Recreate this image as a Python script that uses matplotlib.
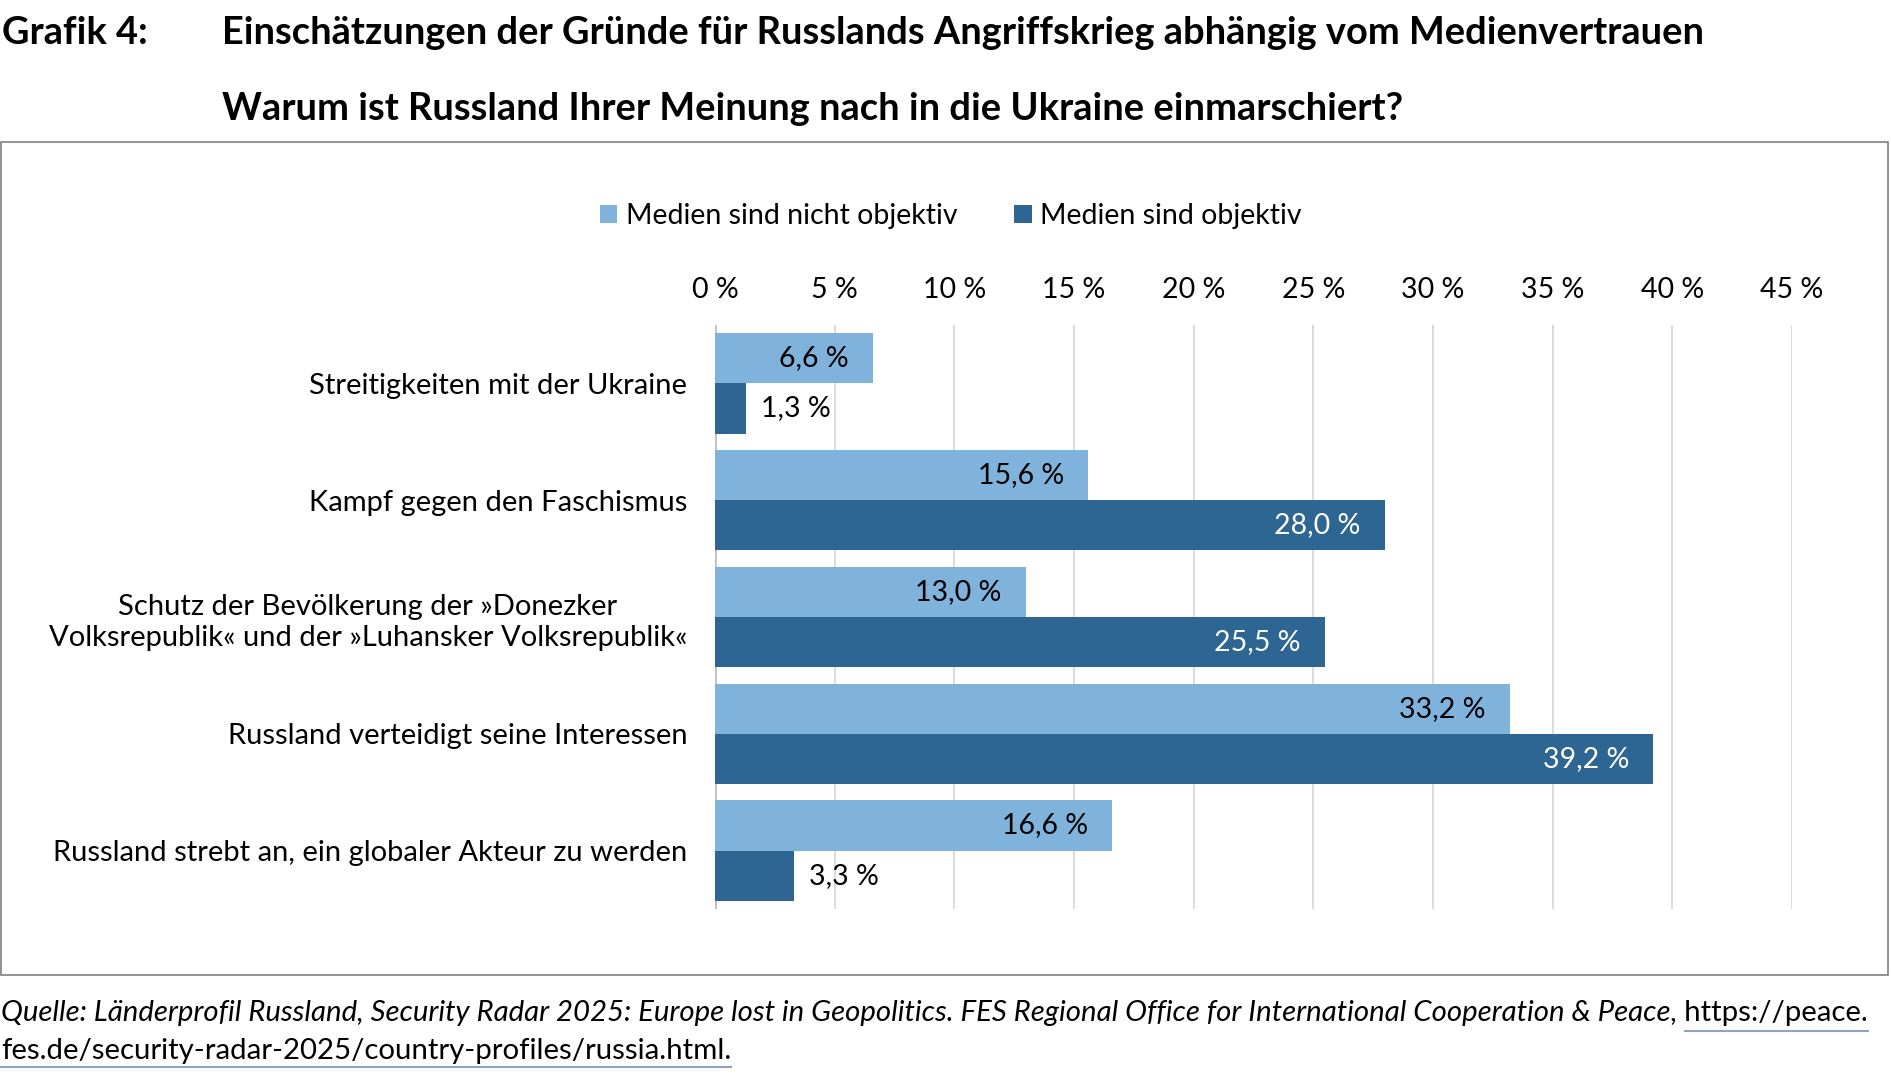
import matplotlib
matplotlib.use("Agg")
import matplotlib.pyplot as plt
from matplotlib.patches import Rectangle, Patch
from matplotlib.lines import Line2D

plt.rcParams["font.family"] = ["Lato", "DejaVu Sans"]

categories = [
    "Streitigkeiten mit der Ukraine",
    "Kampf gegen den Faschismus",
    "Schutz der Bevölkerung der »Donezker\nVolksrepublik« und der »Luhansker Volksrepublik«",
    "Russland verteidigt seine Interessen",
    "Russland strebt an, ein globaler Akteur zu werden",
]
nicht_objektiv = [6.6, 15.6, 13.0, 33.2, 16.6]
objektiv = [1.3, 28.0, 25.5, 39.2, 3.3]
ticks = [0, 5, 10, 15, 20, 25, 30, 35, 40, 45]
series_names = ["Medien sind nicht objektiv", "Medien sind objektiv"]

LIGHT = "#80B3DB"
DARK = "#2D6693"

W, H = 1891, 1076
fig = plt.figure(figsize=(W / 100, H / 100), dpi=100)


def fx(x):
    return x / W


def fy(y):
    return 1 - y / H


ax = fig.add_axes([fx(715), fy(909), fx(1792) - fx(715), (909 - 325) / H])

bh = 0.43
ypos = list(range(len(categories)))
ax.barh([y - bh / 2 for y in ypos], nicht_objektiv, height=bh, color=LIGHT, zorder=3)
ax.barh([y + bh / 2 for y in ypos], objektiv, height=bh, color=DARK, zorder=3)

fs = 20.5
for y, v in zip(ypos, nicht_objektiv):
    ax.annotate(f"{v:.1f} %".replace(".", ","), (v, y - bh / 2), xytext=(-17.5, 0),
                textcoords="offset points", ha="right", va="center", fontsize=fs,
                color="black", zorder=4)
for y, v in zip(ypos, objektiv):
    lab = f"{v:.1f} %".replace(".", ",")
    if v > 10:
        ax.annotate(lab, (v, y + bh / 2), xytext=(-17.5, 0), textcoords="offset points",
                    ha="right", va="center", fontsize=fs, color="white", zorder=4)
    else:
        ax.annotate(lab, (v, y + bh / 2), xytext=(11, 0), textcoords="offset points",
                    ha="left", va="center", fontsize=fs, color="black", zorder=4)

ax.set_xlim(0, 45)
ax.set_ylim(4.5, -0.5)
ax.set_xticks(ticks)
ax.set_xticklabels([f"{t} %" for t in ticks], fontsize=fs)
ax.xaxis.tick_top()
ax.tick_params(axis="x", length=0, pad=16)
ax.set_yticks(ypos)
ax.set_yticklabels(categories, fontsize=21, multialignment="center", linespacing=1.25)
ax.tick_params(axis="y", length=0, pad=20)
for s in ax.spines.values():
    s.set_visible(False)
ax.grid(axis="x", color="#D9D9D9", linewidth=1.3, zorder=0)
ax.axvline(0, color="#BFBFBF", linewidth=2, zorder=2)

handles = [Patch(facecolor=LIGHT, edgecolor="none"), Patch(facecolor=DARK, edgecolor="none")]
fig.legend(handles, series_names, loc="center", bbox_to_anchor=(fx(951), fy(216)),
           ncol=2, frameon=False, fontsize=fs, handlelength=0.6, handleheight=0.6,
           handletextpad=0.3, columnspacing=2.0)

# frame around chart
fig.patches.append(Rectangle((fx(1), fy(975)), fx(1888) - fx(1), (975 - 142) / H,
                             transform=fig.transFigure, fill=False,
                             edgecolor="#7F7F7F", linewidth=1.2))

# titles
tfs = 27.4
fig.text(fx(2), fy(33), "Grafik 4:", fontsize=tfs, fontweight="bold", va="center")
fig.text(fx(222), fy(33),
         "Einschätzungen der Gründe für Russlands Angriffskrieg abhängig vom Medienvertrauen",
         fontsize=tfs, fontweight="bold", va="center")
fig.text(fx(222), fy(109), "Warum ist Russland Ihrer Meinung nach in die Ukraine einmarschiert?",
         fontsize=tfs, fontweight="bold", va="center")

# footer: italic source, upright underlined link
ffs = 21.2
src = ("Quelle: Länderprofil Russland, Security Radar 2025: Europe lost in Geopolitics. "
       "FES Regional Office for International Cooperation & Peace")
tail1 = ", https://peace."
link1 = "https://peace."
line2 = "fes.de/security-radar-2025/country-profiles/russia.html."

t1 = fig.text(fx(1), fy(1021), src, fontsize=ffs, style="italic", va="baseline")
fig.canvas.draw()
r = fig.canvas.get_renderer()
e1 = t1.get_window_extent(r)
t1b = fig.text(e1.x1 / W, fy(1021), tail1, fontsize=ffs, va="baseline")
t2 = fig.text(fx(1), fy(1059), line2, fontsize=ffs, va="baseline")
m1 = fig.text(0, 0, link1, fontsize=ffs)
fig.canvas.draw()
eb = t1b.get_window_extent(r)
e2 = t2.get_window_extent(r)
w1 = m1.get_window_extent(r).width
m1.remove()
ul = "#8EA2C4"
fig.add_artist(Line2D([(eb.x1 - w1) / W, eb.x1 / W], [fy(1031), fy(1031)],
                      color=ul, linewidth=1.5, transform=fig.transFigure))
fig.add_artist(Line2D([e2.x0 / W, e2.x1 / W], [fy(1067), fy(1067)],
                      color=ul, linewidth=1.5, transform=fig.transFigure))

fig.savefig("out.png", dpi=100)
